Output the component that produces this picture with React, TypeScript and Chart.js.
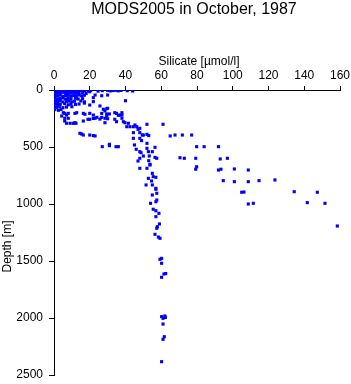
import React, { useEffect, useRef } from 'react';
import { Chart, registerables } from 'chart.js';

Chart.register(...registerables);

const chartTitle = 'MODS2005 in October, 1987';
const xTitle = 'Silicate [µmol/l]';
const yTitle = 'Depth [m]';
const xMin = 0, xMax = 160, xStep = 20;
const yMin = 0, yMax = 2500, yStep = 500;

const surfaceSi = [0.5,1.5,2.5,3.5,4.5,5.5,6.5,7.5,8.5,9.5,10.5,11.5,12.5,13.5,14.5,15.5,17,
  19,20.5,24.6,27,30,31.5,33,34.5,36,37.5,41,44,
  0.5,2,3.5,5,6.5,8,9.5,11,12.5,14,16,18,
  0.5,2,3.5,5,6.5,8,9.5,11,12.5,14,15.5,17,
  0.5,2,3.5,5,6.5,8,9.5,12,13.5,16,
  0.5,2,3.5,5,7,8.5,10,11.5,15,17,
  0.5,2,3.5,6,8,9.5,12,14,
  0.5,1.5,3,5,7,10,
  0.5,2.5,4];
const surfaceDepth = [2,6,3,8,4,1,5,9,3,6,2,7,4,10,5,3,8,
  8,4,10,6,3,8,5,3,7,4,6,9,
  22,28,25,20,30,24,27,21,29,26,23,31,
  48,52,45,55,50,47,53,49,56,44,51,46,
  72,78,75,70,80,74,77,73,79,76,
  98,102,95,105,100,97,103,99,96,104,
  122,128,125,120,130,124,127,123,
  148,152,145,155,150,147,
  172,178,170];

const upperSi = [20,23,26.7,30,22,40,25.7,30,20,22,17,27.6,28.5,29.5,
  16.4,20,22,26.7,29.5,31,35,37,38,34,36,38,
  19,23,25.7,28.5,34,35,38,38.8,39.7,41.6,30,29.5,
  40.7,42.5,44.4,46.3,45.3,48,47,52,61,
  6,7,8,11.7,5.2,4.3,6,8,7,9,10.8,12.3,6,11.7,16.4,28.5,22,24,26.7,12.7,17.3,20,
  14.5,15.5,16.4,20,22,23,
  27,31,31,34.7,36];
const upperDepth = [15,44,50,44,67,94,140,160,132,102,115,169,184,164,
  205,205,220,205,210,210,205,220,220,199,222,199,
  257,248,255,248,257,278,248,278,287,292,252,228,
  322,322,322,322,307,336,345,301,301,
  205,220,205,205,199,228,248,248,292,292,292,292,272,287,272,287,250,240,240,199,213,257,
  380,386,395,395,400,403,
  497,476,488,497,497];

const columnSi = [48,50,52,44.4,44.4,48,49,52,45,46,48,48.7,52,52.8,56.5,55,53.3,50,48,47,
  56.5,57.5,53.7,48,52,55,52.8,55.5,57,54.6,51.5,55,57,55,57.5,57.5,57,54,55.5,57,
  58.7,57,59,57.8,57.5,56.5,59.3,58.4,53,53.7,57,49.4,53];
const columnDepth = [374,395,389,374,424,424,444,468,482,520,541,550,512,541,503,541,579,579,599,623,
  591,599,658,687,687,731,775,760,766,798,833,833,871,921,906,965,980,994,1046,1059,
  1082,1111,1175,1199,1213,1266,1301,1290,620,652,862,395,400];

const deepSi = [59.3,60.2,60.2,61.5,60.2,62.5,60.2,62,61,61,61.7,61,60.2,62.3];
const deepDepth = [1485,1477,1520,1614,1643,1610,1988,1982,2003,2053,2164,2187,2383,1995];

const branchSi = [65,67.7,71.8,77,70.5,72.9,79.8,84,92,79.3,93,97,79.8,79.3,92,93.4,100.9,108.7,
  94.7,100.9,108.7,114.7,123.6,105,106.3,134.4,147.3,108.7,111.5,141.7,151.6,158.5];
const branchDepth = [403,395,395,395,594,599,497,497,497,599,605,599,673,695,702,695,693,702,
  795,804,804,795,789,897,895,892,897,1000,994,988,994,1193];

const silicate = [...surfaceSi, ...upperSi, ...columnSi, ...deepSi, ...branchSi];
const depth = [...surfaceDepth, ...upperDepth, ...columnDepth, ...deepDepth, ...branchDepth];

const FONT = '"Liberation Sans", Arial, Helvetica, sans-serif';

const textPlugin = {
  id: 'customTexts',
  afterDraw(chart: any) {
    const ctx = chart.ctx;
    const a = chart.chartArea;
    ctx.save();
    ctx.fillStyle = '#000';
    ctx.textBaseline = 'alphabetic';
    ctx.textAlign = 'center';
    ctx.font = `16px ${FONT}`;
    ctx.fillText(chartTitle, (a.left + a.right) / 2 - 3, 13.5);
    ctx.font = `12px ${FONT}`;
    ctx.fillText(xTitle, (a.left + a.right) / 2 + 2, 65);
    ctx.translate(11, (a.top + a.bottom) / 2 + 14);
    ctx.rotate(-Math.PI / 2);
    ctx.fillText(yTitle, 0, 0);
    ctx.restore();
  },
};

export default function App() {
  const ref = useRef<HTMLCanvasElement | null>(null);
  useEffect(() => {
    if (!ref.current) return;
    const chart = new Chart(ref.current, {
      type: 'scatter',
      data: {
        datasets: [{
          data: silicate.map((v, i) => ({ x: v, y: depth[i] })),
          pointStyle: 'rect',
          pointRadius: 2.2,
          pointHoverRadius: 2.2,
          backgroundColor: '#0000ff',
          borderColor: '#0000ff',
          borderWidth: 0,
        }],
      },
      options: {
        responsive: false,
        animation: false,
        events: [],
        layout: { padding: { top: 0, left: 0, right: 11, bottom: 9 } },
        plugins: { legend: { display: false }, tooltip: { enabled: false }, title: { display: false } },
        scales: {
          x: {
            type: 'linear', position: 'top', min: xMin, max: xMax,
            ticks: { stepSize: xStep, color: '#000', font: { family: FONT, size: 12 }, padding: 3, maxRotation: 0, callback: (v: any) => String(v) },
            grid: { display: true, drawOnChartArea: false, drawTicks: true, tickLength: 4, color: '#000', lineWidth: 1 },
            border: { display: true, color: '#000', width: 1 },
            afterFit: (s: any) => { s.height = 90; s.paddingLeft = 0; s.paddingRight = 0; },
          },
          y: {
            type: 'linear', position: 'left', reverse: true, min: yMin, max: yMax,
            ticks: { stepSize: yStep, color: '#000', font: { family: FONT, size: 12 }, padding: 6, callback: (v: any) => String(v) },
            grid: { display: true, drawOnChartArea: false, drawTicks: true, tickLength: 5, color: '#000', lineWidth: 1 },
            border: { display: true, color: '#000', width: 1 },
            afterFit: (s: any) => { s.width = 54; s.paddingTop = 0; s.paddingBottom = 0; },
          },
        },
      },
      plugins: [textPlugin],
    } as any);
    return () => chart.destroy();
  }, []);
  return (
    <div style={{ position: 'fixed', left: 0, top: 0, width: 351, height: 384, background: '#fff' }}>
      <canvas ref={ref} width={351} height={384} style={{ display: 'block' }} />
    </div>
  );
}
